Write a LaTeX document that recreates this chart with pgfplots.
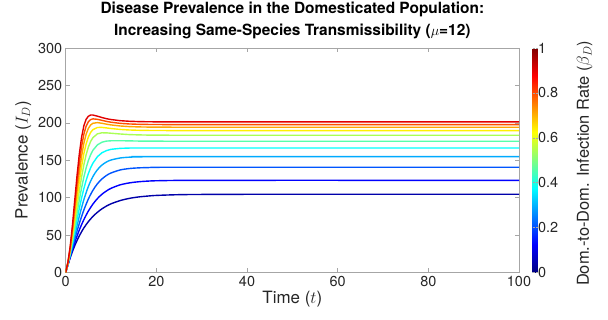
\documentclass[border=0pt]{standalone}
\usepackage{fontspec}
\setmainfont{TeX Gyre Heros}
\usepackage{pgfplots}
\pgfplotsset{compat=1.18}

% line colours sampled along the jet colour map
\definecolor{c0}{RGB}{0,0,170}
\definecolor{c1}{RGB}{0,0,255}
\definecolor{c2}{RGB}{0,85,255}
\definecolor{c3}{RGB}{0,170,255}
\definecolor{c4}{RGB}{0,255,255}
\definecolor{c5}{RGB}{85,255,170}
\definecolor{c6}{RGB}{170,255,85}
\definecolor{c7}{RGB}{255,240,0}
\definecolor{c8}{RGB}{255,165,0}
\definecolor{c9}{RGB}{255,80,0}
\definecolor{c10}{RGB}{225,0,0}

\begin{document}
\begin{tikzpicture}
\path[use as bounding box] (0,0) rectangle (608bp,320bp);
\begin{axis}[
  at={(65.7bp,47.5bp)}, anchor=south west,
  scale only axis, width=453.3bp, height=224.5bp,
  xmin=0, xmax=100, ymin=0, ymax=300,
  xtick={0,20,40,60,80,100}, ytick={0,50,100,150,200,250,300},
  tick align=inside, major tick length=4.5bp,
  axis line style={black!35, line width=0.6bp},
  tick style={black!35, line width=0.6bp},
  /pgf/number format/assume math mode=true,
  ticklabel style={font=\fontsize{14.5}{14.5}\selectfont, text=black!85},
  xlabel={Time ($t$)}, ylabel={Prevalence ($I_D$)},
  label style={font=\fontsize{17}{17}\selectfont, text=black!85},
  xlabel style={yshift=2bp},
  title={Disease Prevalence in the Domesticated Population:\\Increasing Same-Species Transmissibility ($\mu$=12)},
  title style={font=\bfseries\fontsize{15.5}{22}\selectfont, align=center, at={(0.5,1)}, anchor=south, yshift=0bp},
  colormap/jet, point meta min=0, point meta max=1,
  colorbar,
  colorbar style={
    at={(parent axis.north east)}, anchor=north west, xshift=5bp,
    width=5bp,
    ytick={0,0.2,0.4,0.6,0.8,1},
    yticklabel pos=right, ylabel near ticks,
    ylabel={Dom.-to-Dom. Infection Rate ($\beta_D$)},
    axis line style={draw=none},
    tick style={black!35, line width=0.5bp},
    major tick length=2bp,
    /pgf/number format/assume math mode=true,
    ticklabel style={font=\fontsize{14.5}{14.5}\selectfont, text=black!85, xshift=-3bp},
    label style={font=\fontsize{16.5}{16.5}\selectfont, text=black!85},
    ylabel style={xshift=-3bp, yshift=-12bp},
  },
  every axis plot/.append style={line width=1.4bp},
]
\addplot[c0, smooth] coordinates {(0,0) (1,19.8) (2,35.9) (3,48.9) (4,59.5) (5,68.0) (6,74.9) (7,80.5) (8,85.1) (9,88.8) (10,91.8) (12,96.1) (14,99.0) (16,100.9) (18,102.1) (20,103.0) (25,104.0) (30,104.3) (40,104.5) (100,104.5)};
\addplot[c1, smooth] coordinates {(0,0) (1,21.1) (2,40.1) (3,56.7) (4,70.6) (5,82.1) (6,91.4) (7,98.8) (8,104.6) (9,109.0) (10,112.5) (12,117.1) (14,119.7) (16,121.2) (18,122.1) (20,122.6) (25,123.1) (30,123.2) (100,123.2)};
\addplot[c2, smooth] coordinates {(0,0) (1,22.4) (2,44.7) (3,65.4) (4,83.4) (5,98.2) (6,109.8) (7,118.6) (8,125.0) (9,129.7) (10,133.0) (12,137.0) (14,138.9) (16,139.8) (18,140.2) (20,140.4) (25,140.6) (100,140.6)};
\addplot[c3, smooth] coordinates {(0,0) (1,23.8) (2,49.7) (3,75.0) (4,97.2) (5,115.0) (6,128.2) (7,137.4) (8,143.6) (9,147.7) (10,150.3) (12,153.0) (14,154.1) (16,154.5) (18,154.7) (20,154.8) (100,154.8)};
\addplot[c4] coordinates {(0,0) (0.5,11.8) (1,25.2) (1.5,39.8) (2,55.1) (2.5,70.5) (3,85.5) (3.5,99.4) (4,112.0) (4.5,123.0) (5,132.2) (5.5,140.0) (6,146.1) (7,154.8) (8,160.0) (9,162.9) (10,164.6) (12,165.9) (14,166.3) (16,166.35) (18,166.4) (100,166.4)};
\addplot[c5] coordinates {(0,0) (0.5,12.2) (1,26.7) (1.5,43.1) (2,60.8) (2.5,79.0) (3,96.7) (3.5,112.9) (4,127.3) (4.5,139.6) (5,149.6) (5.5,157.4) (6,163.3) (7,170.6) (8,174.1) (9,175.6) (10,176.0) (12,176.1) (14,175.9) (16,175.65) (18,175.55) (20,175.48) (25,175.4) (100,175.4)};
\addplot[c6] coordinates {(0,0) (0.5,12.5) (1,28.2) (1.5,46.7) (2,67.2) (2.5,88.3) (3,108.8) (3.5,127.5) (4,143.7) (4.5,157.2) (5,167.6) (5.5,175.1) (6,180.2) (7,185.3) (8,186.7) (9,186.6) (10,186.1) (12,185.1) (14,184.3) (16,183.9) (18,183.65) (20,183.53) (25,183.43) (100,183.4)};
\addplot[c7] coordinates {(0,0) (0.5,12.9) (1,29.8) (1.5,50.6) (2,73.9) (2.5,98.1) (3,121.1) (3.5,141.5) (4,158.6) (4.5,171.6) (5,181.1) (5.5,187.2) (6,190.9) (7,193.8) (8,193.9) (9,193.2) (10,192.4) (12,191.2) (14,190.45) (16,190.05) (18,189.84) (20,189.73) (25,189.63) (100,189.6)};
\addplot[c8] coordinates {(0,0) (0.5,13.3) (1,31.5) (1.5,54.7) (2,81.1) (2.5,108.2) (3,133.5) (3.5,155.2) (4,172.5) (4.5,184.7) (5,192.6) (5.5,197.1) (6,199.4) (7,200.3) (8,199.4) (9,198.2) (10,197.2) (12,195.8) (14,194.98) (16,194.57) (18,194.35) (20,194.23) (25,194.13) (100,194.1)};
\addplot[c9] coordinates {(0,0) (0.5,13.7) (1,33.3) (1.5,59.1) (2,88.7) (2.5,118.7) (3,145.8) (3.5,168.2) (4,184.7) (4.5,195.4) (5,201.4) (5.5,204.3) (6,205.3) (7,204.7) (8,203.3) (9,201.9) (10,200.8) (12,199.3) (14,198.5) (16,198.07) (18,197.85) (20,197.73) (25,197.63) (100,197.6)};
\addplot[c10] coordinates {(0,0) (0.5,14.0) (1,35.3) (1.5,63.8) (2,96.8) (2.5,129.5) (3,158.1) (3.5,180.6) (4,195.9) (4.5,204.7) (5,208.8) (5.5,210.4) (6,210.4) (7,208.9) (8,207.1) (9,205.5) (10,204.4) (12,202.9) (14,202.1) (16,201.67) (18,201.45) (20,201.33) (25,201.23) (100,201.2)};
\end{axis}
\end{tikzpicture}
\end{document}
